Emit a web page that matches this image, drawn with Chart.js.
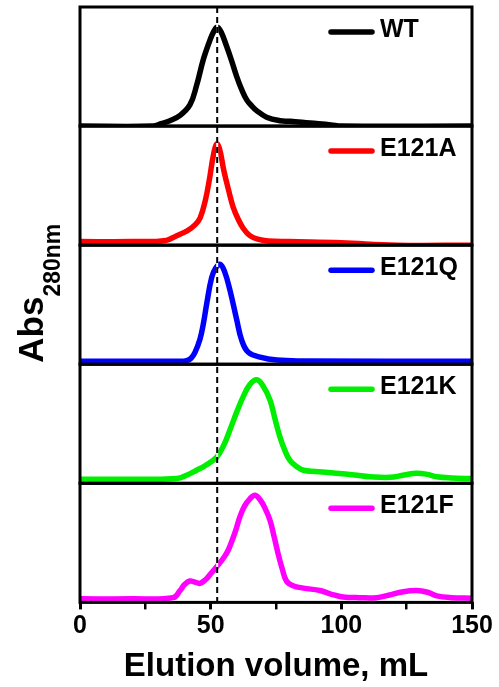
<!DOCTYPE html>
<html>
<head>
<meta charset="utf-8">
<script src="https://cdn.jsdelivr.net/npm/chart.js@4.4.1/dist/chart.umd.min.js"></script>
<style>
  html, body { margin: 0; padding: 0; background: #fff; }
  canvas { display: block; }
</style>
</head>
<body>
<canvas id="secChart" width="499" height="687"></canvas>
<script>
// panels from top to bottom
const variants = ['WT', 'E121A', 'E121Q', 'E121K', 'E121F'];
const lineColors = ['#000000', '#ff0000', '#0000ff', '#00ee00', '#ff00ff'];

// elution volume (mL) and normalised absorbance
const wtVol = [0, 28, 31, 34.4, 38.3, 42.1, 44.6, 47.2, 49.7, 51.3, 52.5, 54, 56.1, 58, 59.9, 61.8, 63.8, 65.7, 67.6, 71.4, 76.5, 80.4, 88, 96, 100, 150];
const wtAbs = [0, 0, 0.02, 0.045, 0.09, 0.18, 0.34, 0.56, 0.72, 0.8, 0.83, 0.79, 0.67, 0.55, 0.42, 0.31, 0.22, 0.17, 0.13, 0.075, 0.045, 0.04, 0.025, 0.01, 0, 0];

const e121aVol = [0, 20, 33, 37, 41, 44, 46, 48, 49.5, 51, 52.3, 53.5, 55, 57, 58.6, 60.5, 62.5, 65, 68, 72, 80, 100, 121, 150];
const e121aAbs = [0.03, 0.03, 0.04, 0.08, 0.12, 0.17, 0.23, 0.38, 0.55, 0.75, 0.85, 0.8, 0.63, 0.45, 0.32, 0.22, 0.14, 0.08, 0.05, 0.035, 0.03, 0.02, 0, 0];

const e121qVol = [0, 38, 40.8, 42.5, 44, 45.9, 47.2, 48.5, 50.4, 52, 53.6, 55.3, 57.4, 60, 61.9, 64.4, 68.9, 75.3, 85, 150];
const e121qAbs = [0.025, 0.025, 0.03, 0.05, 0.1, 0.21, 0.34, 0.51, 0.73, 0.81, 0.84, 0.78, 0.62, 0.37, 0.2, 0.1, 0.06, 0.035, 0.028, 0.025];

const e121kVol = [0, 20, 37, 41, 44.6, 48, 52.3, 55, 57.4, 60, 62.5, 65, 67.6, 70, 72.7, 74.5, 76.5, 78.5, 80.4, 83, 85.5, 90, 98, 105, 111, 118.6, 124, 128.8, 133, 136.5, 142, 150];
const e121kAbs = [0.035, 0.035, 0.04, 0.07, 0.11, 0.15, 0.22, 0.32, 0.45, 0.6, 0.73, 0.83, 0.87, 0.82, 0.7, 0.55, 0.39, 0.27, 0.19, 0.14, 0.11, 0.1, 0.085, 0.07, 0.055, 0.05, 0.07, 0.085, 0.075, 0.055, 0.045, 0.04];

const e121fVol = [0, 20, 35.6, 38.3, 40, 42, 44, 45.9, 48, 50, 52.3, 54.5, 56.5, 58.2, 59.8, 61.2, 63, 65, 67, 69, 70.8, 72.7, 74.3, 75.8, 77.4, 79, 81.5, 85.5, 91.8, 96, 100.7, 107, 113.5, 118, 123.7, 128.8, 133, 136.5, 142, 150];
const e121fAbs = [0.03, 0.03, 0.04, 0.1, 0.15, 0.18, 0.17, 0.16, 0.19, 0.24, 0.3, 0.36, 0.43, 0.52, 0.62, 0.72, 0.81, 0.87, 0.9, 0.86, 0.79, 0.69, 0.55, 0.41, 0.28, 0.18, 0.14, 0.12, 0.1, 0.07, 0.045, 0.04, 0.04, 0.06, 0.09, 0.1, 0.085, 0.055, 0.04, 0.035];

const volumes = [wtVol, e121aVol, e121qVol, e121kVol, e121fVol];
const absorbances = [wtAbs, e121aAbs, e121qAbs, e121kAbs, e121fAbs];

const xMin = 0, xMax = 150, xStep = 25;
const labelEvery = 50;
const dashedAt = 52.5;

const fontFamily = '"Liberation Sans", Arial, Helvetica, sans-serif';
Chart.defaults.font.family = fontFamily;
Chart.defaults.color = '#000';

const datasets = variants.map(function(name, i) {
    return {
        label: name,
        data: volumes[i].map(function(v, j) { return {x: v, y: absorbances[i][j]}; }),
        yAxisID: 'panel' + i,
        borderColor: lineColors[i],
        borderWidth: 5.5,
        borderJoinStyle: 'round',
        pointRadius: 0,
        fill: false,
        tension: 0.4
    };
});

// stacked y axes, one per panel; the last one added ends up on top
const scales = {};
for (let i = variants.length - 1; i >= 0; i--) {
    scales['panel' + i] = {
        type: 'linear',
        position: 'left',
        stack: 'abs',
        stackWeight: 1,
        min: 0,
        max: 1,
        ticks: { display: false },
        grid: { display: false, drawTicks: false },
        border: { display: false }
    };
}
scales.x = {
    type: 'linear',
    min: xMin,
    max: xMax,
    ticks: {
        stepSize: xStep,
        padding: 2,
        font: { size: 25, weight: 'bold' },
        callback: function(v) { return v % labelEvery === 0 ? v : ''; }
    },
    grid: {
        drawOnChartArea: false,
        drawTicks: true,
        tickLength: 7,
        color: '#000',
        lineWidth: function(ctx) { return ctx.tick && ctx.tick.value % labelEvery === 0 ? 3 : 2.5; }
    },
    border: { display: false },
    title: {
        display: true,
        text: 'Elution volume, mL',
        font: { size: 33, weight: 'bold' },
        padding: { top: 4, bottom: 0 }
    }
};

const panelFrames = {
    id: 'panelFrames',
    afterDatasetsDraw: function(chart) {
        const ctx = chart.ctx;
        const area = chart.chartArea;
        const xs = chart.scales.x;
        ctx.save();

        // dashed reference line, white under black dashes
        const dx = xs.getPixelForValue(dashedAt);
        ctx.lineWidth = 2;
        ctx.strokeStyle = '#fff';
        ctx.beginPath();
        ctx.moveTo(dx, area.top);
        ctx.lineTo(dx, area.bottom);
        ctx.stroke();
        ctx.setLineDash([6, 4]);
        ctx.strokeStyle = '#000';
        ctx.beginPath();
        ctx.moveTo(dx, area.top);
        ctx.lineTo(dx, area.bottom);
        ctx.stroke();
        ctx.setLineDash([]);

        // frame of every panel plus its legend entry
        for (let i = 0; i < variants.length; i++) {
            const ys = chart.scales['panel' + i];
            ctx.lineWidth = 3;
            ctx.strokeStyle = '#000';
            ctx.strokeRect(area.left, ys.top, area.right - area.left, ys.bottom - ys.top);

            ctx.lineWidth = 5.5;
            ctx.lineCap = 'round';
            ctx.strokeStyle = lineColors[i];
            ctx.beginPath();
            ctx.moveTo(331, ys.top + 25);
            ctx.lineTo(372, ys.top + 25);
            ctx.stroke();

            ctx.fillStyle = '#000';
            ctx.font = 'bold 25px ' + fontFamily;
            ctx.textBaseline = 'middle';
            ctx.textAlign = 'left';
            ctx.fillText(variants[i], 380, ys.top + 23);
        }

        // y title with subscript
        ctx.translate(43, (area.top + area.bottom) / 2 + 58);
        ctx.rotate(-Math.PI / 2);
        ctx.textBaseline = 'alphabetic';
        ctx.font = 'bold 35px ' + fontFamily;
        ctx.fillText('Abs', 0, 0);
        const w = ctx.measureText('Abs').width;
        ctx.font = 'bold 23px ' + fontFamily;
        ctx.fillText('280nm', w, 17);
        ctx.restore();
    }
};

new Chart(document.getElementById('secChart').getContext('2d'), {
    type: 'line',
    data: { datasets: datasets },
    options: {
        responsive: false,
        animation: false,
        devicePixelRatio: 1,
        layout: { padding: { left: 80, right: 27, top: 7, bottom: 0 } },
        plugins: {
            legend: { display: false },
            tooltip: { enabled: false }
        },
        scales: scales
    },
    plugins: [panelFrames]
});
</script>
</body>
</html>
